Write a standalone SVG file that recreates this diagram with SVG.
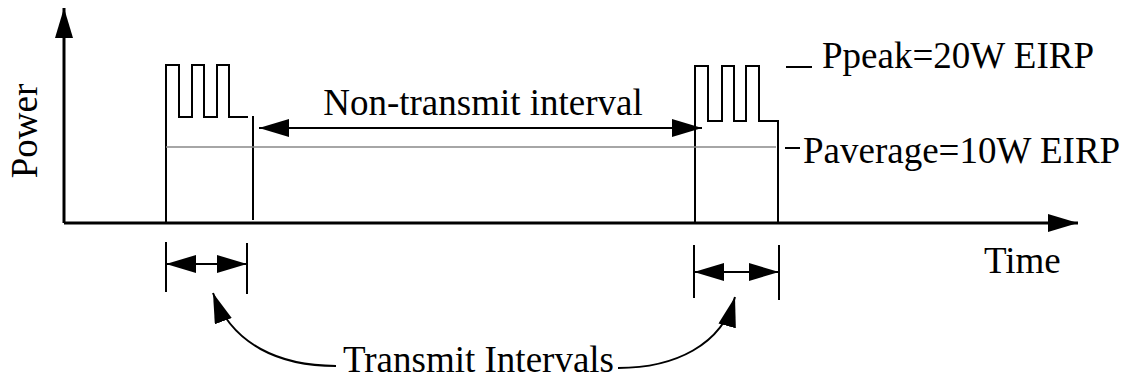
<svg xmlns="http://www.w3.org/2000/svg" width="1134" height="381" viewBox="0 0 1134 381">
  <style>
    .lbl { font-family: "Liberation Serif", "Times New Roman", serif; font-size: 37px; fill: #000; }
    .axis { stroke: #000; stroke-width: 3; fill: none; }
    .ln { stroke: #000; stroke-width: 2; fill: none; }
    .avg { stroke: #888; stroke-width: 1.5; fill: none; }
  </style>
  <defs>
    <marker id="ah" viewBox="0 0 30 18" refX="30" refY="9" markerWidth="30" markerHeight="18" markerUnits="userSpaceOnUse" orient="auto-start-reverse">
      <path d="M0,0 L30,9 L0,18 Z" fill="#000"/>
    </marker>
    <marker id="ax" viewBox="0 0 30 18" refX="30" refY="9" markerWidth="30" markerHeight="18" markerUnits="userSpaceOnUse" orient="auto">
      <path d="M0,0 L30,9 L0,18 Z" fill="#000"/>
    </marker>
  </defs>

  <g id="axes">
    <path class="axis" d="M64,223 L64,8" marker-end="url(#ax)"/>
    <path class="axis" d="M64,223 L1078,223" marker-end="url(#ax)"/>
    <text class="lbl" transform="translate(37,131) rotate(-90)" text-anchor="middle">Power</text>
    <text class="lbl" x="984" y="273">Time</text>
  </g>

  <g id="burst-1">
    <path class="ln" d="M166,223 L166,65 L179,65 L179,117 L192,117 L192,65 L204,65 L204,117 L217,117 L217,65 L229,65 L229,117 L248,117"/>
    <line class="ln" x1="253" y1="116" x2="253" y2="220"/>
  </g>

  <g id="burst-2">
    <path class="ln" d="M695,223 L695,66 L708,66 L708,121 L722,121 L722,66 L734,66 L734,121 L746,121 L746,66 L759,66 L759,121 L778,121 L778,223"/>
  </g>

  <g id="average-level">
    <line class="avg" x1="166" y1="147" x2="776" y2="147"/>
  </g>

  <g id="peak-label">
    <line class="ln" x1="786" y1="67" x2="812" y2="67"/>
    <text class="lbl" x="822" y="68">Ppeak=20W EIRP</text>
  </g>

  <g id="average-label">
    <line class="ln" x1="785" y1="148" x2="800" y2="148"/>
    <text class="lbl" x="803" y="163">Paverage=10W EIRP</text>
  </g>

  <g id="non-transmit">
    <text class="lbl" x="483" y="115" text-anchor="middle">Non-transmit interval</text>
  </g>

  <g id="interval-ticks">
    <line class="ln" x1="166" y1="242" x2="166" y2="292"/>
    <line class="ln" x1="247" y1="243" x2="247" y2="294"/>
    <line class="ln" x1="694" y1="245" x2="694" y2="298"/>
    <line class="ln" x1="779" y1="245" x2="779" y2="300"/>
  </g>

  <g id="transmit-label">
    <text class="lbl" x="343" y="372">Transmit Intervals</text>
  </g>

  <g id="connectors">
    <line class="ln" x1="259" y1="128" x2="702" y2="128" marker-start="url(#ah)" marker-end="url(#ah)"/>
    <line class="ln" x1="166" y1="264" x2="247" y2="264" marker-start="url(#ah)" marker-end="url(#ah)"/>
    <line class="ln" x1="694" y1="272" x2="779" y2="272" marker-start="url(#ah)" marker-end="url(#ah)"/>
    <path class="ln" d="M336,366 C280,366 232,345 213,293" marker-end="url(#ah)"/>
    <path class="ln" d="M618,368 C675,368 722,345 735,297" marker-end="url(#ah)"/>
  </g>
</svg>
